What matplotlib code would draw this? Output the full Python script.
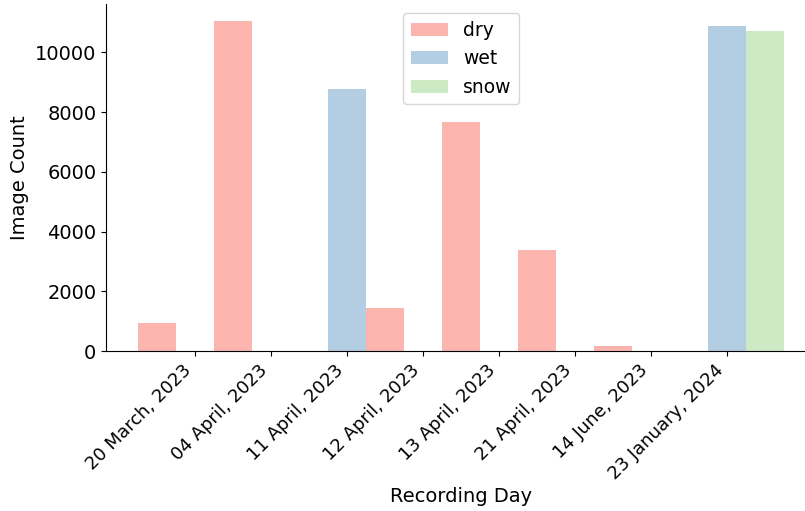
import numpy as np
import matplotlib
matplotlib.use("Agg")
import matplotlib.pyplot as plt

days = ["20 March, 2023", "04 April, 2023", "11 April, 2023", "12 April, 2023",
        "13 April, 2023", "21 April, 2023", "14 June, 2023", "23 January, 2024"]
dry = [940, 11060, 0, 1440, 7670, 3380, 170, 0]
wet = [0, 0, 8770, 0, 0, 0, 0, 10880]
snow = [0, 0, 0, 0, 0, 0, 0, 10710]

conditions = ["dry", "wet", "snow"]
colors = plt.get_cmap("Pastel1").colors[:3]
width = 0.5

plt.rcParams["font.size"] = 14

fig = plt.figure(figsize=(8.05, 5.11), dpi=100)
ax = fig.add_axes([0.1317, 0.313, 0.8827, 0.679])

x = np.arange(len(days))
for i, (name, vals) in enumerate(zip(conditions, [dry, wet, snow])):
    ax.bar(x + i * width, vals, width=width, label=name, color=colors[i])

ax.set_xticks(x + width)
ax.set_xticklabels(days, rotation=45, ha="right", fontsize=13)
ax.set_xlabel("Recording Day", labelpad=3)
ax.set_ylabel("Image Count")
ax.spines["top"].set_visible(False)
ax.spines["right"].set_visible(False)
ax.legend(loc="upper center", fontsize=13.5)

fig.savefig("out.png", dpi=100)
